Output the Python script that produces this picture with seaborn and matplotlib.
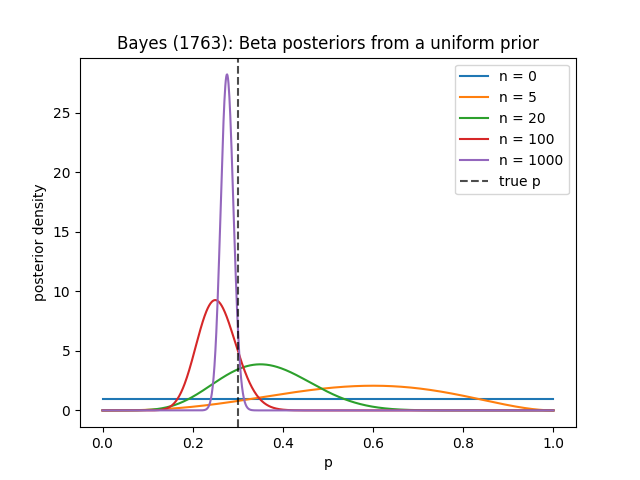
import math
import numpy as np
import pandas as pd
import matplotlib
matplotlib.use("Agg")
import matplotlib.pyplot as plt
import seaborn as sns

# trials and successes behind each posterior (uniform Beta(1,1) prior)
n_trials = [0, 5, 20, 100, 1000]
n_success = [0, 3, 7, 25, 276]
true_p = 0.3

p = np.linspace(0, 1, 1000)


def beta_pdf(x, a, b):
    logB = math.lgamma(a) + math.lgamma(b) - math.lgamma(a + b)
    with np.errstate(divide="ignore"):
        out = np.exp((a - 1) * np.log(x) + (b - 1) * np.log1p(-x) - logB)
    return np.nan_to_num(out)


fig, ax = plt.subplots(figsize=(6.4, 4.8), dpi=100)

for n, k in zip(n_trials, n_success):
    dens = beta_pdf(p, 1 + k, 1 + n - k)
    if n == 0:
        dens = np.ones_like(p)
    sns.lineplot(x=p, y=dens, ax=ax, label=f"n = {n}")

ax.axvline(true_p, color="k", linestyle="--", alpha=0.7, label="true p")

ax.set_title("Bayes (1763): Beta posteriors from a uniform prior")
ax.set_xlabel("p")
ax.set_ylabel("posterior density")
ax.legend(loc="upper right")

fig.savefig("out.png", dpi=100)
